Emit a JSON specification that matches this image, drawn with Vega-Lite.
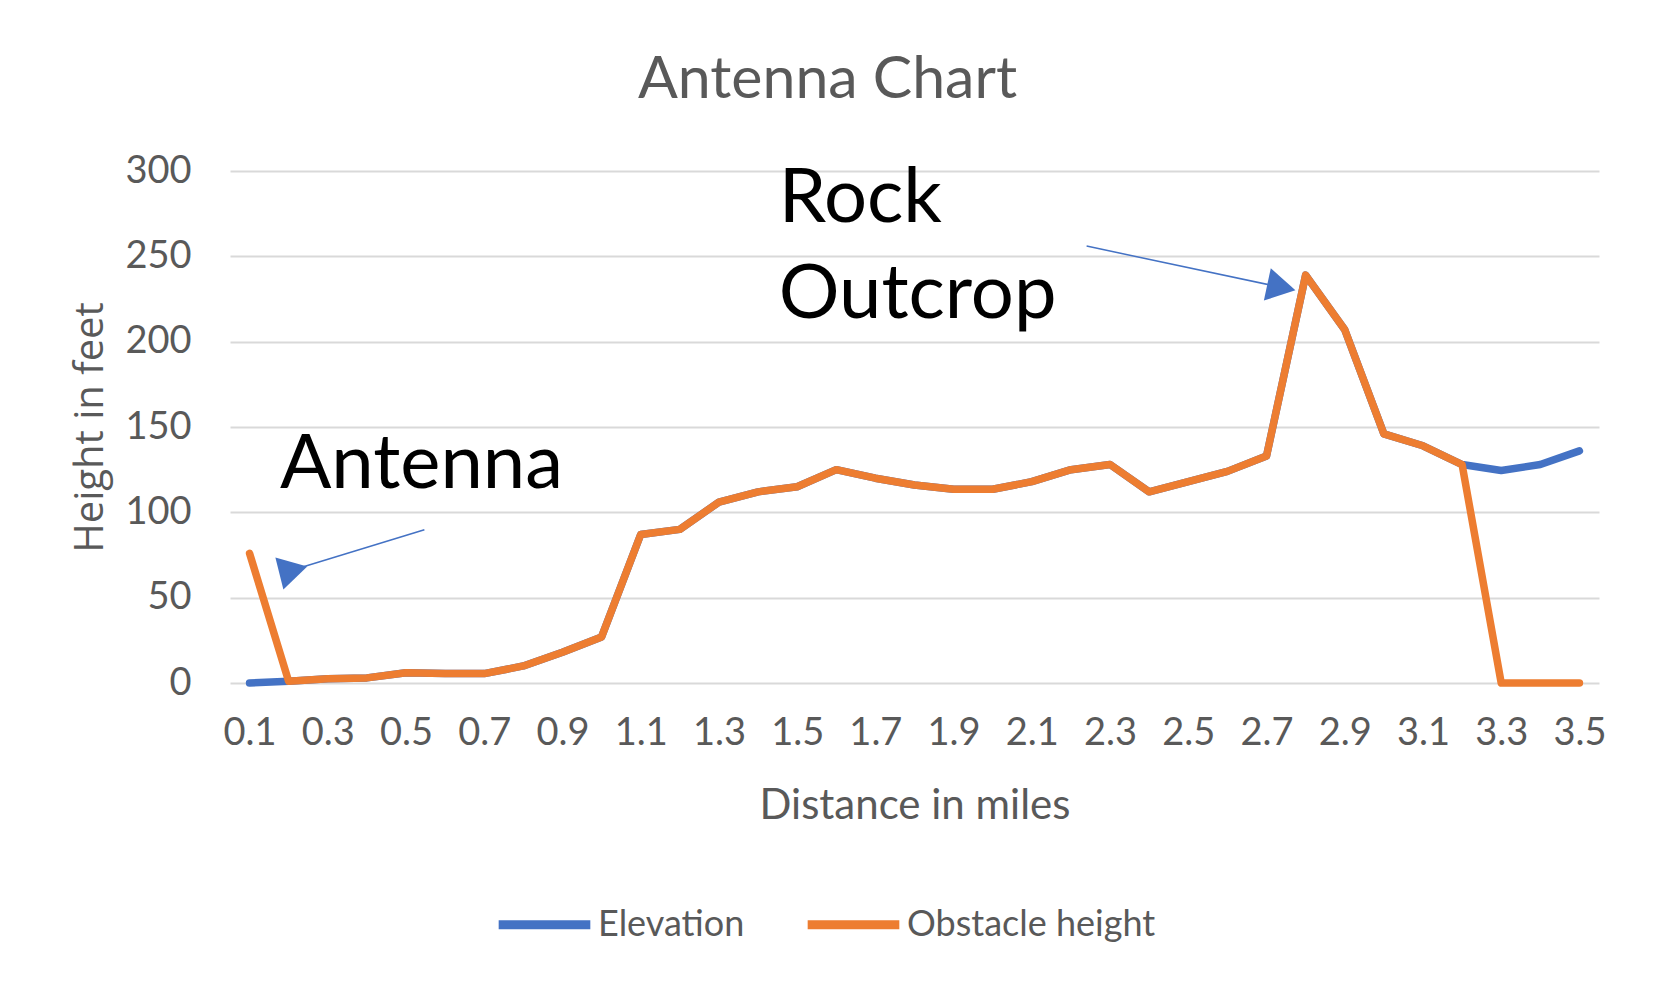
{
  "$schema": "https://vega.github.io/schema/vega-lite/v6.json",
  "description": "Antenna chart: elevation and obstacle height along a path",
  "autosize": "none",
  "padding": {"left": 230, "top": 171, "right": 55, "bottom": 310},
  "width": 1369,
  "height": 512,
  "background": "white",
  "title": {
    "text": "Antenna Chart",
    "font": "Lato",
    "fontSize": 59,
    "fontWeight": "normal",
    "color": "#595959",
    "anchor": "middle",
    "frame": "group",
    "dx": -87,
    "baseline": "alphabetic",
    "offset": -5
  },
  "layer": [
    {
      "data": {
        "values": [
          {"mi": 0.1, "Elevation": 0, "Obstacle height": 76},
          {"mi": 0.2, "Elevation": 1, "Obstacle height": 1},
          {"mi": 0.3, "Elevation": 2.5, "Obstacle height": 2.5},
          {"mi": 0.4, "Elevation": 3, "Obstacle height": 3},
          {"mi": 0.5, "Elevation": 6, "Obstacle height": 6},
          {"mi": 0.6, "Elevation": 5.5, "Obstacle height": 5.5},
          {"mi": 0.7, "Elevation": 5.5, "Obstacle height": 5.5},
          {"mi": 0.8, "Elevation": 10, "Obstacle height": 10},
          {"mi": 0.9, "Elevation": 18, "Obstacle height": 18},
          {"mi": 1.0, "Elevation": 27, "Obstacle height": 27},
          {"mi": 1.1, "Elevation": 87, "Obstacle height": 87},
          {"mi": 1.2, "Elevation": 90, "Obstacle height": 90},
          {"mi": 1.3, "Elevation": 106, "Obstacle height": 106},
          {"mi": 1.4, "Elevation": 112, "Obstacle height": 112},
          {"mi": 1.5, "Elevation": 115, "Obstacle height": 115},
          {"mi": 1.6, "Elevation": 125, "Obstacle height": 125},
          {"mi": 1.7, "Elevation": 120, "Obstacle height": 120},
          {"mi": 1.8, "Elevation": 116, "Obstacle height": 116},
          {"mi": 1.9, "Elevation": 113.5, "Obstacle height": 113.5},
          {"mi": 2.0, "Elevation": 113.5, "Obstacle height": 113.5},
          {"mi": 2.1, "Elevation": 118, "Obstacle height": 118},
          {"mi": 2.2, "Elevation": 125, "Obstacle height": 125},
          {"mi": 2.3, "Elevation": 128, "Obstacle height": 128},
          {"mi": 2.4, "Elevation": 112, "Obstacle height": 112},
          {"mi": 2.5, "Elevation": 118, "Obstacle height": 118},
          {"mi": 2.6, "Elevation": 124, "Obstacle height": 124},
          {"mi": 2.7, "Elevation": 133, "Obstacle height": 133},
          {"mi": 2.8, "Elevation": 239, "Obstacle height": 239},
          {"mi": 2.9, "Elevation": 207, "Obstacle height": 207},
          {"mi": 3.0, "Elevation": 146, "Obstacle height": 146},
          {"mi": 3.1, "Elevation": 139, "Obstacle height": 139},
          {"mi": 3.2, "Elevation": 128, "Obstacle height": 128},
          {"mi": 3.3, "Elevation": 124.5, "Obstacle height": 0},
          {"mi": 3.4, "Elevation": 128, "Obstacle height": 0},
          {"mi": 3.5, "Elevation": 136, "Obstacle height": 0}
        ]
      },
      "transform": [
        {"fold": ["Elevation", "Obstacle height"], "as": ["series", "feet"]}
      ],
      "mark": {"type": "line", "strokeWidth": 7.5, "strokeJoin": "round", "strokeCap": "round"},
      "encoding": {
        "x": {
          "field": "mi",
          "type": "quantitative",
          "scale": {"domain": [0.05, 3.55], "nice": false, "zero": false},
          "axis": {
            "values": [0.1, 0.3, 0.5, 0.7, 0.9, 1.1, 1.3, 1.5, 1.7, 1.9, 2.1, 2.3, 2.5, 2.7, 2.9, 3.1, 3.3, 3.5],
            "format": ".1f",
            "grid": false,
            "ticks": false,
            "domain": false,
            "labelFont": "Lato",
            "labelFontSize": 38,
            "labelColor": "#595959",
            "labelBaseline": "top",
            "labelPadding": 31,
            "labelFlush": false,
            "labelOverlap": false,
            "title": "Distance in miles",
            "titleFont": "Lato",
            "titleFontSize": 42,
            "titleFontWeight": "normal",
            "titleColor": "#595959",
            "titleBaseline": "alphabetic",
            "titleY": 135
          }
        },
        "y": {
          "field": "feet",
          "type": "quantitative",
          "scale": {"domain": [0, 300], "nice": false},
          "axis": {
            "values": [0, 50, 100, 150, 200, 250, 300],
            "grid": true,
            "gridColor": "#d9d9d9",
            "gridWidth": 2,
            "ticks": false,
            "domain": false,
            "labelFont": "Lato",
            "labelFontSize": 38,
            "labelColor": "#595959",
            "labelPadding": 39,
            "title": "Height in feet",
            "titleFont": "Open Sans",
            "titleFontSize": 40,
            "titleFontWeight": "normal",
            "titleColor": "#595959",
            "titleAngle": -90,
            "titleAlign": "center",
            "titleBaseline": "middle",
            "titleX": -140,
            "titleY": 256
          }
        },
        "color": {
          "field": "series",
          "type": "nominal",
          "scale": {"domain": ["Elevation", "Obstacle height"], "range": ["#4472C4", "#ED7D31"]},
          "legend": {
            "title": null,
            "orient": "none",
            "direction": "horizontal",
            "legendX": 264,
            "legendY": 703,
            "symbolType": "stroke",
            "symbolStrokeWidth": 9,
            "symbolSize": 8400,
            "labelFont": "Lato",
            "labelFontSize": 36,
            "labelColor": "#595959",
            "labelOffset": 3,
            "labelLimit": 400,
            "columnPadding": 44
          }
        }
      }
    },
    {
      "data": {
        "values": [
          {"label": "Antenna", "x": 0.178, "y": 114},
          {"label": "Rock", "x": 1.453, "y": 270},
          {"label": "Outcrop", "x": 1.453, "y": 214}
        ]
      },
      "mark": {"type": "text", "font": "Lato", "fontSize": 76, "color": "black", "align": "left", "baseline": "alphabetic"},
      "encoding": {
        "x": {"field": "x", "type": "quantitative"},
        "y": {"field": "y", "type": "quantitative"},
        "text": {"field": "label"}
      }
    },
    {
      "data": {
        "values": [
          {"arrow": "antenna", "x": 0.547, "y": 89.8, "x2": 0.2, "y2": 65.5, "angle": 196},
          {"arrow": "rock", "x": 2.24, "y": 256, "x2": 2.726, "y2": 232.4, "angle": 102}
        ]
      },
      "layer": [
        {
          "mark": {"type": "rule", "color": "#4472C4", "strokeWidth": 1.5},
          "encoding": {
            "x": {"field": "x", "type": "quantitative"},
            "y": {"field": "y", "type": "quantitative"},
            "x2": {"field": "x2"},
            "y2": {"field": "y2"}
          }
        },
        {
          "mark": {"type": "point", "shape": "triangle", "filled": true, "color": "#4472C4", "size": 1100, "opacity": 1},
          "encoding": {
            "x": {"field": "x2", "type": "quantitative"},
            "y": {"field": "y2", "type": "quantitative"},
            "angle": {"field": "angle", "type": "quantitative", "scale": null}
          }
        }
      ]
    }
  ],
  "config": {
    "view": {"stroke": null}
  }
}
